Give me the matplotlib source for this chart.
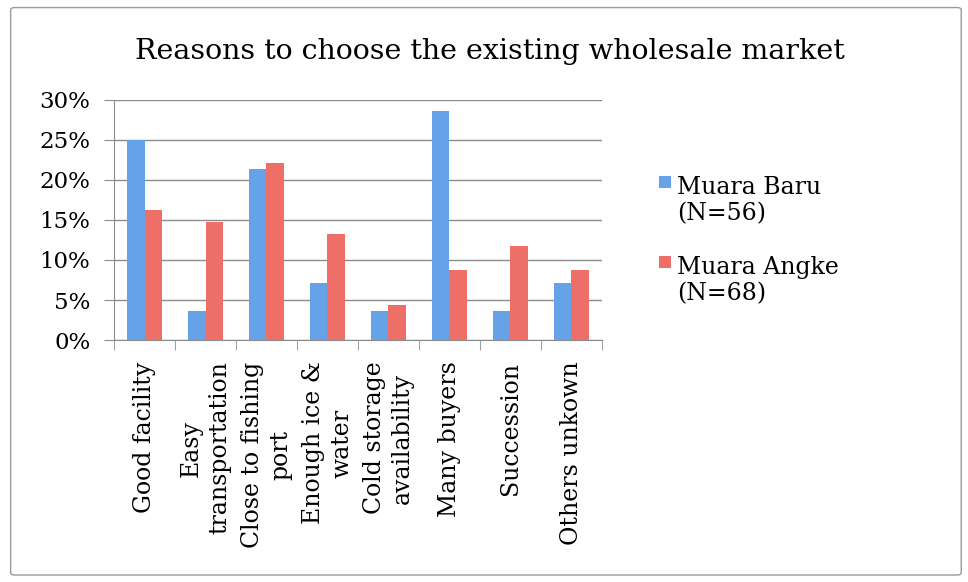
import matplotlib.pyplot as plt
import numpy as np
from matplotlib.legend_handler import HandlerPatch
from matplotlib.patches import FancyBboxPatch, Rectangle

plt.rcParams["font.family"] = ["DejaVu Serif"]

CATEGORIES = [
    "Good facility",
    "Easy\ntransportation",
    "Close to fishing\nport",
    "Enough ice &\nwater",
    "Cold storage\navailability",
    "Many buyers",
    "Succession",
    "Others unkown",
]
MUARA_BARU = [25.0, 3.6, 21.4, 7.1, 3.6, 28.6, 3.6, 7.1]
MUARA_ANGKE = [16.2, 14.7, 22.1, 13.2, 4.4, 8.8, 11.8, 8.8]
SERIES_NAMES = ["Muara Baru\n(N=56)", "Muara Angke\n(N=68)"]
Y_TICKS = [0, 5, 10, 15, 20, 25, 30]

BLUE = "#66a2e8"
RED = "#ee6f68"


def top_square(legend, orig_handle, xdescent, ydescent, width, height, fontsize):
    # legend key sits next to the first line of a two-line label, like Excel
    s = width
    return Rectangle((-xdescent, -ydescent + height - s * 0.45), s, s)


def main() -> None:
    fig = plt.figure(figsize=(9.68, 5.82), dpi=100)
    fig.patches.append(FancyBboxPatch((0.011, 0.012), 0.982, 0.975,
                                      boxstyle="round,pad=0,rounding_size=0.004",
                                      transform=fig.transFigure, fill=False,
                                      edgecolor="#9a9a9a", linewidth=1.0))
    ax = fig.add_axes([0.1178, 0.4158, 0.504, 0.4124])

    x = np.arange(len(CATEGORIES))
    w = 1 / 3.5
    b1 = ax.bar(x - w / 2, MUARA_BARU, w, color=BLUE, zorder=3)
    b2 = ax.bar(x + w / 2, MUARA_ANGKE, w, color=RED, zorder=3)

    ax.set_xlim(-0.5, len(CATEGORIES) - 0.5)
    ax.set_ylim(0, 30)
    ax.set_yticks(Y_TICKS)
    ax.set_yticklabels([f"{t}%" for t in Y_TICKS], fontsize=16.5)
    ax.yaxis.grid(True, color="#8c8c8c", linewidth=1.0, zorder=0)
    ax.set_axisbelow(True)

    ax.set_xticks(x)
    ax.set_xticklabels([])
    ax.tick_params(axis="x", length=0)
    ax.set_xticks(np.arange(len(CATEGORIES) + 1) - 0.5, minor=True)
    ax.tick_params(axis="x", which="minor", length=7, color="#8c8c8c")
    ax.tick_params(axis="y", length=7, color="#8c8c8c", pad=10)
    for xi, lab in zip(x, CATEGORIES):
        ax.text(xi, -0.09, lab, transform=ax.get_xaxis_transform(), rotation=90,
                ha="center", va="top", multialignment="center", fontsize=17,
                linespacing=1.3)

    for side in ["top", "right"]:
        ax.spines[side].set_visible(False)
    for side in ["left", "bottom"]:
        ax.spines[side].set_color("#8c8c8c")

    fig.text(0.506, 0.912, "Reasons to choose the existing wholesale market",
             ha="center", va="center", fontsize=20.5)

    fig.legend([b1.patches[0], b2.patches[0]], SERIES_NAMES,
               loc="upper left", bbox_to_anchor=(0.681, 0.698),
               frameon=False, fontsize=17, handlelength=0.5, handleheight=2.2,
               handletextpad=0.25, labelspacing=1.3, borderpad=0, borderaxespad=0,
               handler_map={Rectangle: HandlerPatch(patch_func=top_square)})

    fig.savefig("out.png", dpi=100)


if __name__ == "__main__":
    main()
